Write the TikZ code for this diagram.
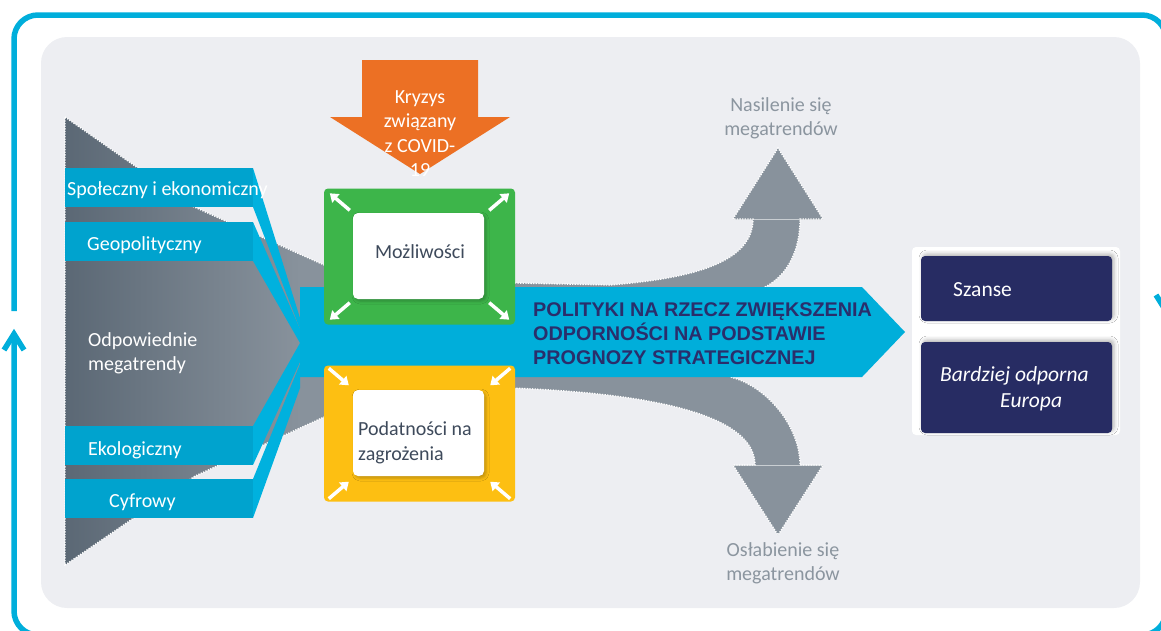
\documentclass[tikz,border=0pt]{standalone}
\usepackage{fontspec}
\setmainfont{Carlito}
\newfontfamily\capsfont{Liberation Sans}
\usetikzlibrary{arrows.meta,shadows.blur}

\definecolor{panelgray}{HTML}{EDEEF2}
\definecolor{frameblue}{HTML}{00AEDB}
\definecolor{bandblue}{HTML}{00A3CE}
\definecolor{linkblue}{HTML}{00B1DE}
\definecolor{policyblue}{HTML}{00AEDA}
\definecolor{trendlight}{HTML}{88929C}
\definecolor{trenddark}{HTML}{5B6875}
\definecolor{oppgreen}{HTML}{3DB54A}
\definecolor{vulyellow}{HTML}{FDBF12}
\definecolor{crisisorange}{HTML}{EC7024}
\definecolor{navy}{HTML}{272C63}
\definecolor{inktext}{HTML}{3E4A5B}
\definecolor{softtext}{HTML}{8B959F}
\definecolor{headnavy}{HTML}{2A2E6B}

\begin{document}
\begin{tikzpicture}[x=1pt,y=-1pt,
  frameline/.style={draw=frameblue, line width=5.5, line cap=butt},
  lbl/.style={inner sep=0, anchor=west, align=left, text=white, font=\fontsize{20}{24}\selectfont},
  soft/.style={inner sep=0, align=center, text=softtext, font=\fontsize{20}{24}\selectfont},
  ink/.style={inner sep=0, align=left, text=inktext, font=\fontsize{20}{25}\selectfont},
  outerbox/.style={rounded corners=4, minimum width=191, minimum height=136, inner sep=0},
  innerbox/.style={fill=white, rounded corners=5, minimum width=131, minimum height=86, inner sep=0,
    blur shadow={shadow xshift=2pt, shadow yshift=-2pt, shadow blur radius=3pt, shadow opacity=25}},
  navybox/.style={fill=navy, rounded corners=4, minimum width=191, inner sep=0,
    blur shadow={shadow xshift=2pt, shadow yshift=2pt, shadow blur radius=4pt, shadow opacity=30}},
  cornerarrow/.style={draw=white, line width=3.5, -{Triangle[length=8pt,width=11pt]}},
  dotedge/.style={draw=white, line width=1.3, dash pattern=on 1.3pt off 1.3pt},
  seam/.style={draw=white!55!trendlight, line width=0.7},
]
\useasboundingbox (0,0) rectangle (1161,630);
\clip (0,0) rectangle (1161,630);

% background panel
\fill[panelgray, rounded corners=26] (41,37) rectangle (1140,608);

% cyclic frame with its two turning arrows
\draw[frameline, rounded corners=24] (14,311) -- (14,15) -- (1166,15) -- (1166,311);
\draw[frameline, rounded corners=24] (1166,336) -- (1166,635) -- (14,635) -- (14,334);
\draw[frameline, line join=miter] (4,350) -- (14,334) -- (24,350);
\draw[frameline, line join=miter] (1156,295) -- (1166,311) -- (1176,295);

% megatrend stream: funnel plus the two bent arrows
\begin{scope}
  \clip (65,117) -- (192,206) -- (324,265) -- (515,283) -- (610,285)
    .. controls (700,278) and (753,260) .. (753,219) -- (733,219) -- (778,148) -- (823,219) -- (800,219)
    .. controls (800,250) and (788,275) .. (765,287) -- (745,330) -- (730,377)
    .. controls (765,385) and (800,425) .. (800,465) -- (823,465) -- (778,535) -- (733,465) -- (755,465)
    .. controls (755,425) and (690,395) .. (513,388) -- (324,417) -- (195,476) -- (65,565) -- cycle;
  \fill[trendlight] (60,110) rectangle (830,570);
  \shade[left color=trenddark, right color=trendlight] (65,110) rectangle (300,570);
\end{scope}
\draw[seam] (735,219) -- (821,219);
\draw[seam] (735,465) -- (821,465);
\draw[dotedge]
  (65,117) -- (192,206) -- (324,265) -- (515,283) -- (610,285)
    .. controls (700,278) and (753,260) .. (753,219) -- (733,219) -- (778,148) -- (823,219) -- (800,219)
    .. controls (800,250) and (788,275) .. (765,287) -- (745,330) -- (730,377)
    .. controls (765,385) and (800,425) .. (800,465) -- (823,465) -- (778,535) -- (733,465) -- (755,465)
    .. controls (755,425) and (690,395) .. (513,388) -- (324,417) -- (195,476) -- (65,565) -- cycle;

% megatrend category bands
\fill[bandblue] (65,168) rectangle (253,207);
\fill[bandblue] (65,222) rectangle (253,261);
\fill[bandblue] (65,426) rectangle (253,465);
\fill[bandblue] (65,479) rectangle (253,518);
% slanted links into the policy arrow
\fill[linkblue] (253,168) -- (300,318) -- (300,329) -- (253,207) -- cycle;
\fill[linkblue] (253,222) -- (300,329) -- (300,343) -- (253,261) -- cycle;
\fill[linkblue] (253,426) -- (300,343) -- (300,362) -- (253,465) -- cycle;
\fill[linkblue] (253,479) -- (300,364) -- (300,388) -- (253,518) -- cycle;

% policy arrow
\fill[policyblue] (300,287) -- (862,287) -- (905,332) -- (862,377) -- (300,377) -- cycle;

% opportunities and vulnerabilities
\node[outerbox, fill=oppgreen] (opp) at (419.5,256.5) {};
\node[outerbox, fill=vulyellow] (vul) at (419.5,433.5) {};
\node[innerbox] (oppin) at (418.5,256) {};
\node[innerbox] (vulin) at (418.5,433) {};
\foreach \a/\sx/\sy in {north west/1/1, north east/-1/1, south west/1/-1, south east/-1/-1} {
  \draw[cornerarrow] ([shift={(26*\sx,22*\sy)}]opp.\a) -- ([shift={(6*\sx,5*\sy)}]opp.\a);
  \draw[cornerarrow] ([shift={(5*\sx,3*\sy)}]vul.\a) -- ([shift={(25*\sx,20*\sy)}]vul.\a);
}
\node[ink, align=center] (opptxt) at (420,252) {Możliwości};
\node[ink, anchor=west] (vultxt) at (358,442.5) {Podatności na\\zagrożenia};

% crisis arrow
\fill[crisisorange] (362,60) -- (478,60) -- (478,117) -- (510,117) -- (420,174) -- (330,117) -- (362,117) -- cycle;
\node[lbl, anchor=center, align=center, font=\fontsize{20}{24.3}\selectfont] (crisis) at (420,133.5) {Kryzys\\związany\\z COVID-\\19};

% outcomes
\node[fill=white, rounded corners=4, minimum width=208, minimum height=188, inner sep=0] (res) at (1016,341) {};
\node[navybox, minimum height=65] (szanse) at (1016.5,288.5) {};
\node[navybox, minimum height=91] (europa) at (1016.5,387.5) {};
\node[lbl, font=\fontsize{21.5}{26}\selectfont] (szantxt) at (953,290) {Szanse};
\node[lbl, font=\fontsize{21.5}{26}\selectfont\itshape] (eurotxt) at (940,389) {Bardziej odporna\\\hspace*{60pt}Europa};

% labels
\node[lbl] (soc) at (67,190) {Społeczny i ekonomiczny};
\node[lbl] (geo) at (87,245) {Geopolityczny};
\node[lbl] (rel) at (88,353) {Odpowiednie\\megatrendy};
\node[lbl] (eco) at (88,450) {Ekologiczny};
\node[lbl] (dig) at (109,502) {Cyfrowy};
\node[soft] (upt) at (781,118.5) {Nasilenie się\\megatrendów};
\node[soft] (downt) at (783,563.5) {Osłabienie się\\megatrendów};
\node[inner sep=0, anchor=west, align=left, text=headnavy,
      font=\capsfont\bfseries\fontsize{19.8}{24}\selectfont] (policy) at (533,334)
  {POLITYKI NA RZECZ ZWIĘKSZENIA\\ODPORNOŚCI NA PODSTAWIE\\PROGNOZY STRATEGICZNEJ};
\end{tikzpicture}
\end{document}
